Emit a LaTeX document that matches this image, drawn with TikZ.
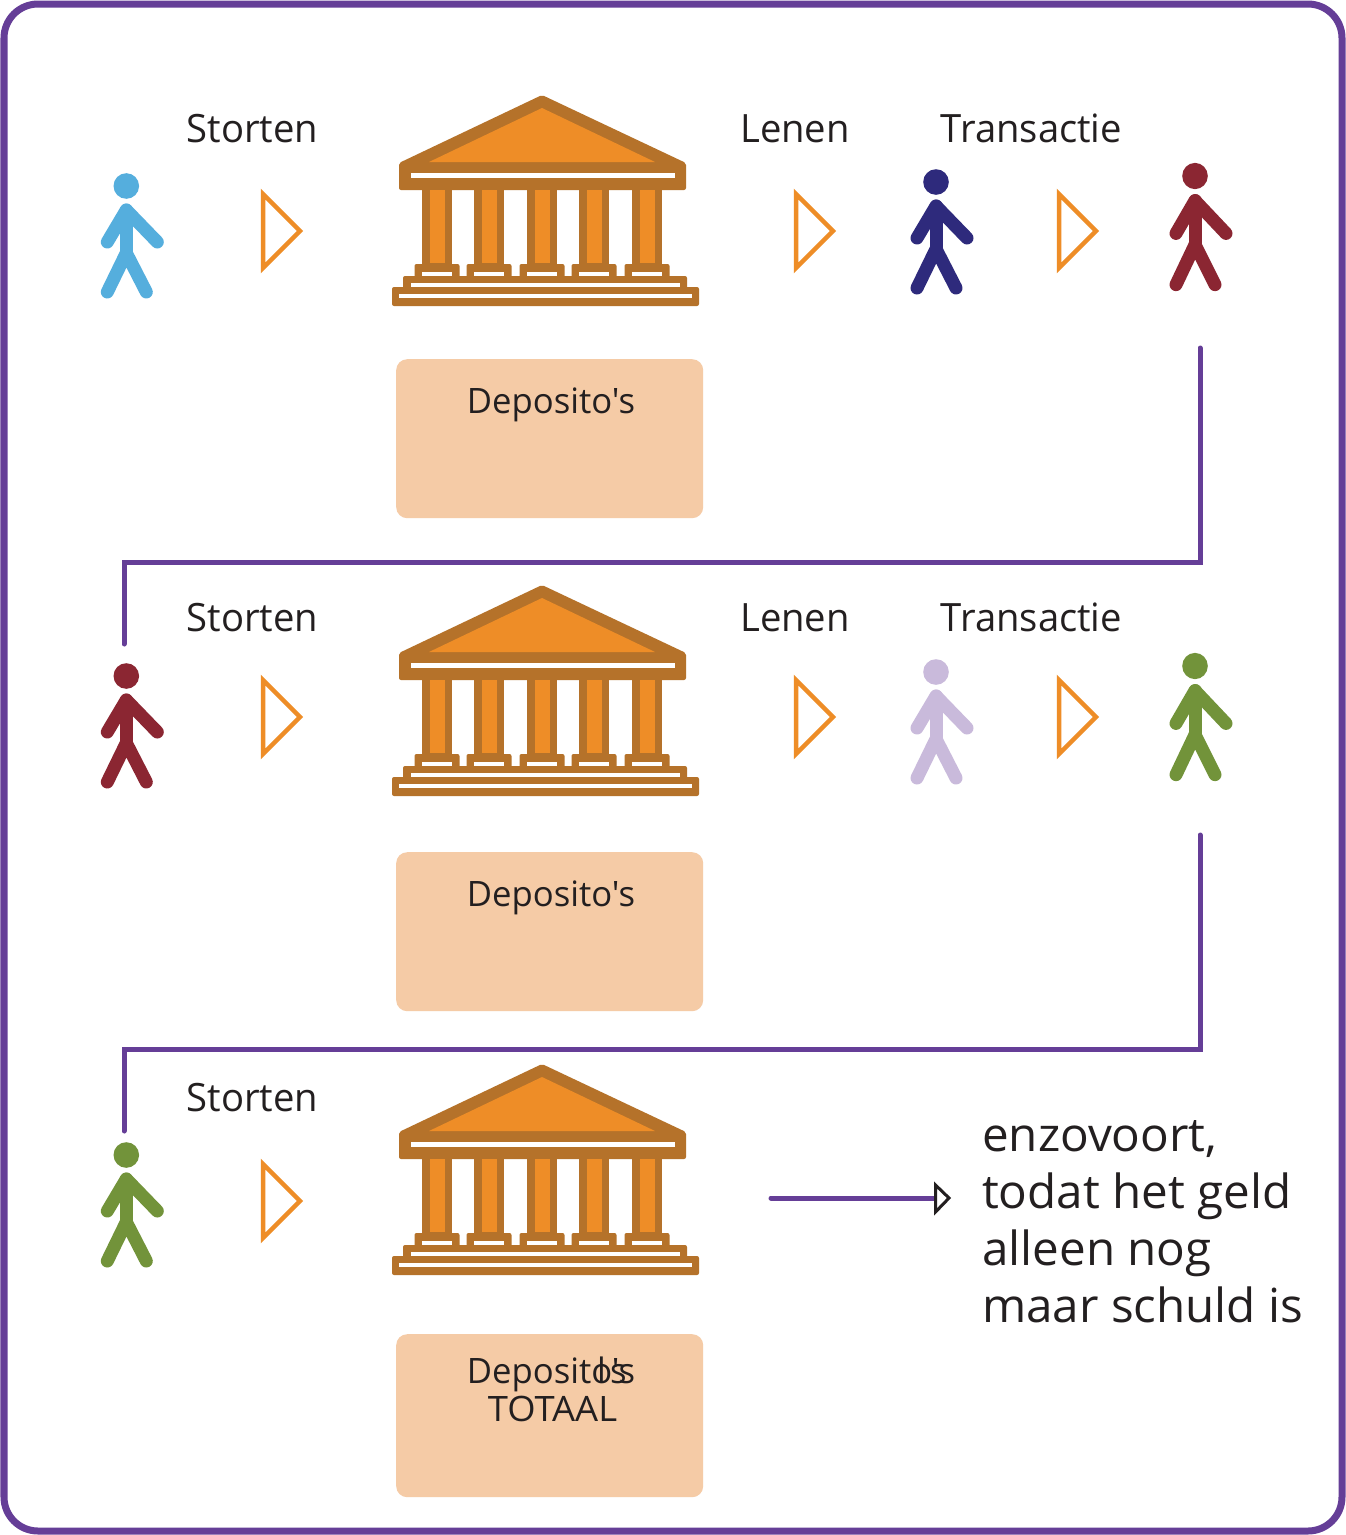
\documentclass[tikz,border=0pt]{standalone}
\usepackage{fontspec}
\setmainfont{Open Sans}
\newfontfamily\fa{Open Sans}[FakeStretch=0.98]
\newfontfamily\fb{Open Sans}[FakeStretch=0.99]
\newfontfamily\fc{Open Sans}[FakeStretch=1.04]
\newfontfamily\fd{Open Sans}[FakeStretch=1.012]
\definecolor{framepurple}{HTML}{653E97}
\definecolor{brownb}{HTML}{B5722A}
\definecolor{orangeb}{HTML}{EE8D27}
\definecolor{boxfill}{HTML}{F5CBA6}
\definecolor{txt}{HTML}{231F20}
\definecolor{pblue}{HTML}{55AEDD}
\definecolor{pnavy}{HTML}{2E2A7C}
\definecolor{pred}{HTML}{8B2632}
\definecolor{plilac}{HTML}{C9BADB}
\definecolor{pgreen}{HTML}{72933A}
\tikzset{
  x=1pt,y=-1pt,
  label/.style={anchor=base,inner sep=0pt,text=txt,font=\fa\fontsize{39}{39}\selectfont},
  boxlabel/.style={anchor=base,inner sep=0pt,text=txt,font=\fb\fontsize{35}{35}\selectfont},
  boxlabelw/.style={anchor=base,inner sep=0pt,text=txt,font=\fc\fontsize{35}{35}\selectfont},
  bigtext/.style={anchor=base west,inner sep=0pt,text=txt,font=\fd\fontsize{47}{47}\selectfont},
  depbox/.style={fill=boxfill,rounded corners=11pt,minimum width=307pt,anchor=north west,inner sep=0pt},
  flow/.style={draw=framepurple,line width=5pt,line join=miter,line cap=round},
  person/.pic={
    \fill[pic actions] (0,0) circle (12.8);
    \draw[pic actions,line width=13pt,line cap=round,line join=round,fill=none]
      (-19,56) -- (0,24) -- (31,56);
    \draw[pic actions,line width=13pt,line cap=round,line join=round,fill=none]
      (0,24) -- (0,66);
    \draw[pic actions,line width=13pt,line cap=round,line join=round,fill=none]
      (-19,106) -- (0,67) -- (20,106);
  },
  tri/.pic={
    \draw[draw=orangeb,line width=4.5pt,line join=miter,fill=white]
      (0,-37) -- (37,0) -- (0,37) -- cycle;
  },
  bank/.pic={
    \fill[brownb,rounded corners=2pt] (399,68) -- (542,0) -- (686,68) -- (686,95) -- (399,95) -- cycle;
    \fill[orangeb] (429,67) -- (542,13) -- (655,67) -- cycle;
    \fill[white] (411,78) rectangle (675,83);
    \foreach \cx in {437,489,542,594,647}{
      \fill[brownb] (\cx-15,94) rectangle (\cx+15,170);
      \fill[orangeb] (\cx-7.5,95) rectangle (\cx+7.5,168);
      \fill[brownb,rounded corners=2pt] (\cx-22.5,169) rectangle (\cx+22.5,188);
      \fill[white] (\cx-15,177) rectangle (\cx+15,181);
    }
    \fill[brownb,rounded corners=2pt] (403,181) rectangle (687,199);
    \fill[white] (411,188) rectangle (680,192);
    \fill[brownb,rounded corners=2pt] (392,192) rectangle (699,211);
    \fill[white] (399,199) rectangle (692,203);
  }
}
\newcommand{\depword}{Deposito\char"0027 s}
\begin{document}
\begin{tikzpicture}
\useasboundingbox (0,0) rectangle (1346,1535);
\draw[draw=framepurple,line width=7pt,rounded corners=34pt,fill=white] (4,4) rectangle (1342,1531);

% row 1
\path pic[color=pblue] at (126.3,186) {person};
\node[label] (s1) at (252.5,142.5) {Storten};
\path pic at (263,231) {tri};
\path pic at (0,95) {bank};
\node[label] (l1) at (795,142.5) {Lenen};
\path pic at (796,231) {tri};
\node[label] (t1) at (1031.5,142.5) {Transactie};
\path pic[color=pnavy] at (936,182) {person};
\path pic at (1059,231) {tri};
\path pic[color=pred,yscale=1.025] at (1195,176) {person};
\node[depbox,minimum height=159pt] (b1) at (396,359) {};
\node[boxlabel] (d1) at (551,413) {\depword};

% row 2
\path pic[color=pred] at (126.3,676) {person};
\node[label] (s2) at (252.5,631.5) {Storten};
\path pic at (263,717) {tri};
\path pic at (0,585) {bank};
\node[label] (l2) at (795,631.5) {Lenen};
\path pic at (796,717) {tri};
\node[label] (t2) at (1031.5,631.5) {Transactie};
\path pic[color=plilac] at (936,672) {person};
\path pic at (1059,717) {tri};
\path pic[color=pgreen,yscale=1.025] at (1195,666) {person};
\node[depbox,minimum height=159pt] (b2) at (396,852) {};
\node[boxlabel] (d2) at (551,906) {\depword};

% row 3
\path pic[color=pgreen] at (126.3,1155) {person};
\node[label] (s3) at (252.5,1111.5) {Storten};
\path pic at (263,1201) {tri};
\path pic at (0,1064) {bank};
\node[depbox,minimum height=163pt] (b3) at (396,1334) {};
\node[boxlabel] (d3) at (551,1383) {\depword};
\node[boxlabel,anchor=base west] (d3b) at (597,1383) {l};
\node[boxlabel,anchor=base west] (d3e) at (610,1383) {s};
\node[boxlabelw] (d3c) at (552.5,1421) {TOTAAL};

\node[bigtext] (e1) at (982,1151) {enzovoort,};
\node[bigtext] (e2) at (982,1208) {todat het geld};
\node[bigtext] (e3) at (982,1265) {alleen nog};
\node[bigtext] (e4) at (982,1322.5) {maar schuld is};

% connectors
\coordinate (c1a) at (1200,348);
\coordinate (c1b) at (124,644);
\coordinate (c2a) at (1200,835);
\coordinate (c2b) at (124,1131);
\draw[flow] (c1a) -- (1200,562) -- (124,562) -- (c1b);
\draw[flow] (c2a) -- (1200,1049) -- (124,1049) -- (c2b);
\coordinate (a0) at (771,1198);
\coordinate (a1) at (936,1198);
\draw[draw=framepurple,line width=5pt,line cap=round] (a0) -- (a1);
\draw[draw=txt,line width=3pt,fill=white,line join=miter] (935.5,1185) -- (949,1198) -- (935.5,1212) -- cycle;
\end{tikzpicture}
\end{document}
